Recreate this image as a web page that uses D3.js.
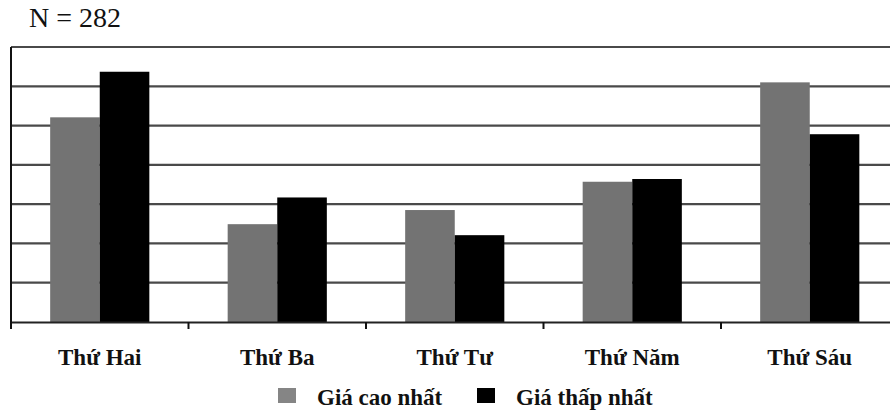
<!DOCTYPE html>
<html><head><meta charset="utf-8">
<script src="https://cdn.jsdelivr.net/npm/d3@7/dist/d3.min.js"></script>
<style>body{margin:0;background:#fff}svg{display:block}</style>
</head><body>
<script>
const categories = ["Thứ Hai", "Thứ Ba", "Thứ Tư", "Thứ Năm", "Thứ Sáu"];
const series = ["Giá cao nhất", "Giá thấp nhất"];
const highValues = [5.21, 2.49, 2.85, 3.57, 6.10];
const lowValues  = [6.37, 3.17, 2.21, 3.64, 4.78];
const gridTicks = [1, 2, 3, 4, 5, 6, 7];
const title = "N = 282";
const colors = ["#737373", "#000000"];

const W = 890, H = 414;
const svg = d3.select("body").append("svg").attr("width", W).attr("height", H);
const mLeft = 11, mBottom = 322, mTop = 47;
const x0 = d3.scaleBand().domain(categories).range([mLeft, 898.5]).padding(0);
const x1 = d3.scaleBand().domain(series).range([0, x0.bandwidth()]).paddingInner(0).paddingOuter(0.79);
const y = d3.scaleLinear().domain([0, 7]).range([mBottom, mTop]);
const color = d3.scaleOrdinal().domain(series).range(colors);

// gridlines
svg.append("g").selectAll("line").data(gridTicks).join("line")
  .attr("x1", mLeft).attr("x2", W).attr("y1", d => y(d)).attr("y2", d => y(d))
  .attr("stroke", "#4a4a4a").attr("stroke-width", 2.2);

const data = categories.map((c, i) => ({cat: c, vals: [highValues[i], lowValues[i]]}));
svg.append("g").selectAll("g").data(data).join("g")
  .attr("transform", d => `translate(${x0(d.cat)},0)`)
  .selectAll("rect").data(d => d.vals.map((v, j) => ({s: series[j], v})))
  .join("rect")
  .attr("x", d => x1(d.s)).attr("width", x1.bandwidth())
  .attr("y", d => y(d.v)).attr("height", d => y(0) - y(d.v))
  .attr("fill", d => color(d.s));

// axes
const xAxis = d3.axisBottom(x0).tickSize(0).tickFormat("");
const gx = svg.append("g").attr("transform", `translate(0,${mBottom})`).call(xAxis);
gx.select(".domain").attr("stroke", "#222").attr("stroke-width", 2);
// boundary ticks
const bounds = categories.map(c => x0(c));
svg.append("g").selectAll("line").data(bounds).join("line")
  .attr("x1", d => d).attr("x2", d => d).attr("y1", mBottom).attr("y2", mBottom + 7)
  .attr("stroke", "#111").attr("stroke-width", 2);
svg.append("line").attr("x1", mLeft).attr("x2", mLeft).attr("y1", mTop).attr("y2", mBottom + 7)
  .attr("stroke", "#111").attr("stroke-width", 2);

svg.append("g").selectAll("text").data(categories).join("text")
  .attr("x", d => x0(d) + x0.bandwidth() / 2).attr("y", 365)
  .attr("text-anchor", "middle")
  .attr("font-family", "Liberation Serif, serif").attr("font-weight", "bold")
  .attr("font-size", 23).attr("fill", "#111").text(d => d);

svg.append("text").attr("x", 29).attr("y", 27)
  .attr("font-family", "Liberation Serif, serif").attr("font-size", 28).attr("fill", "#111").text(title);

// legend
const legendX = [278, 477];
const lg = svg.append("g").selectAll("g").data(series).join("g")
  .attr("transform", (d, i) => `translate(${legendX[i]},388)`);
lg.append("rect").attr("width", 18).attr("height", 15).attr("fill", (d, i) => i === 0 ? "#858585" : "#000");
lg.append("text").attr("x", 39).attr("y", 17)
  .attr("font-family", "Liberation Serif, serif").attr("font-weight", "bold")
  .attr("font-size", 23).attr("fill", "#111").text(d => d);
</script>
</body></html>
